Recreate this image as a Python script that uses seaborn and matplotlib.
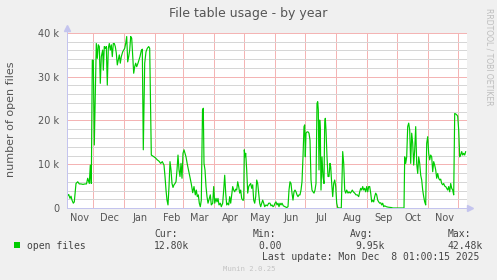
import pandas as pd
import matplotlib
matplotlib.use("Agg")
import matplotlib.pyplot as plt
import matplotlib.dates as mdates
from matplotlib.ticker import FixedLocator, FixedFormatter, MultipleLocator, NullFormatter
from matplotlib.patches import Rectangle
import seaborn as sns

# ---------------- data ----------------
start_time = "2024-11-04 17:00"   # left edge of the time axis
span_days = 400                   # munin "by year" window

# days since start_time
day_offsets = [
    0, 1.7, 3, 4, 5, 6.3, 7.3, 9, 10.7, 12.3, 14, 16, 18, 19.5, 20.7, 22.3, 23.3, 24.3,
    25.3, 26.3, 27.3, 28.3, 29.3, 30.3, 31.3, 32.3, 33.3, 34.3, 35.7, 36.3, 37.3, 38.3,
    39.3, 40.3, 41.3, 42.3, 43.3, 44.3, 45.3, 46.3, 47.3, 48.3, 49.3, 50.3, 51.3, 52.3,
    53.3, 54.3, 55.7, 56.7, 57.7, 58.7, 59.7, 60.7, 61.7, 62.7, 63.7, 64.7, 65.7, 66.7,
    67.7, 68.7,
    69.7, 71, 73, 74.3, 75.3, 76.3, 77.7, 79, 80.3, 81.7, 82.7, 84.3, 85.7, 87, 88.7,
    90.3, 92, 93.7, 95.3, 97, 98, 99, 100, 101, 102, 103, 104, 105, 106, 107, 108, 109,
    110, 111, 112, 113, 114, 115, 116, 117, 118, 119, 120.3, 121.7, 123, 124.3, 125.7,
    127, 128.3, 129.3, 130.3, 131.3, 132.3, 133.3, 134.3, 135.5, 136.3,
    137, 138, 139, 140, 141, 142.3, 143.3, 144.3, 145.7, 146.7, 147.7, 149, 150, 151,
    152, 153.3, 154.3, 155.7, 156.7, 157.7, 158.7, 159.7, 160.7, 161.7, 162.7, 163.7,
    164.7, 165.7, 166.7, 167.7, 168.7, 169.7, 170.7, 171.7, 172.7, 173.7, 174.7, 175.7,
    176.7, 177.3, 178, 178.7, 179.7, 180.7, 181.7, 182.7, 183.7, 184.7, 185.7, 186.7,
    187.7, 188.7, 189.7, 190.7, 191.7, 192.7, 193.7, 194.7, 195.7, 196.7, 197.7, 199,
    200.3, 201.7,
    203, 204, 205, 206, 207, 208, 209, 210, 211, 212, 213, 214, 215, 216.3, 218, 219.7,
    221, 222, 223, 224, 225, 226, 227, 228, 229, 230, 231, 232, 233, 234, 235, 236, 237,
    237.7, 238.3, 239, 240, 241, 242, 243, 244, 245, 246, 247, 248, 249, 250, 250.7,
    251.3, 252, 252.7, 253.3, 254, 255, 256, 257, 257.7, 258.3, 259, 260, 261, 262, 263,
    263.7, 264.7, 265.7, 266.7, 267.7, 268.7, 269.7, 270.7,
    271.7, 274.3, 275.7, 276.7, 277.7, 278.7, 279.7, 281, 282, 283.3, 284.3, 285.3,
    286.3, 287.7, 289, 290.3, 291.7, 292.7, 293.7, 294.7, 295.7, 296.7, 297.7, 298.7,
    299.7, 300.7, 301.7, 302.7, 303.7, 304.7, 305.7, 306.7, 307.7, 308.7, 309.7, 310.7,
    311.7, 312.7, 313.7, 314.7, 315.7, 316.7, 317.7, 319.3, 321, 322.7, 324.3, 326, 331,
    337,
    337.7, 338.7, 339.7, 340.7, 341.7, 342.7, 343.7, 344.7, 345.7, 346.7, 347.7, 348.7,
    349.7, 350.7, 351.7, 352.7, 353.7, 354.7, 355.7, 356.7, 357.7, 358.7, 359.7, 360.7,
    361.7, 362.7, 363.7, 364.7, 365.7, 366.7, 367.7, 368.7, 369.7, 370.7, 371.7, 372.7,
    373.7, 374.7, 375.7, 376.7, 377.7, 378.7, 379.7, 380.7, 381.7, 382.7, 383.7, 384.7,
    385.7, 386.7, 387.7, 388.7, 389.7, 390.7, 391.7, 392.7, 393.7, 394.7, 395.7, 396.7,
    397.7, 398.7,
]

# open files, thousands
open_files_k = [
    2.6, 3.1, 2.2, 2.7, 1.8, 1.1, 1.4, 5.6, 6.0, 5.5, 5.5, 5.4, 5.5, 5.5, 6.8, 5.6, 9.8, 5.6,
    33.8, 33.8, 14.4, 25.4, 37.6, 34.2, 37.3, 36.9, 28.5, 34.6, 36.1, 31.5, 36.9, 36.5,
    36.9, 28.1, 36.5, 37.6, 36.1, 37.3, 34.6, 37.6, 37.6, 36.9, 35.4, 32.7, 33.8, 35.0,
    33.1, 34.6, 35.7, 36.1, 36.5, 37.6, 39.2, 33.4, 34.6, 36.1, 39.2, 38.8, 34.6, 30.8,
    32.3, 33.1,
    32.3, 33.1, 34.6, 36.0, 36.3, 13.3, 33.1, 35.7, 36.5, 36.9, 36.5, 12.1, 11.9, 11.7, 11.4,
    11.0, 10.7, 10.2, 10.6, 9.8, 7.2, 4.1, 1.8, 0.7, 4.9, 10.6, 8.7, 5.6, 4.7, 5.3, 5.6, 6.0,
    8.7, 12.1, 8.7, 7.2, 10.2, 6.8, 12.5, 13.3, 12.5, 11.7, 10.0, 8.5, 7.0, 5.5, 3.5,
    4.9, 3.0, 4.1, 2.6, 3.0, 1.1, 0.3, 1.8, 22.4, 22.8,
    10.2, 8.7, 4.9, 2.6, 1.1, 2.2, 3.0, 0.7, 1.1, 4.9, 1.1, 2.2, 1.4, 2.2,
    0.7, 1.1, 0.3, 1.1, 4.1, 7.5, 3.4, 0.7, 1.1, 0.7, 2.6, 1.1,
    3.0, 4.9, 4.1, 3.7, 4.3, 4.1, 6.0, 4.9, 3.4, 4.1, 2.2, 1.8,
    1.8, 13.3, 11.7, 12.5, 8.7, 3.4, 4.9, 5.3, 5.6, 4.5, 5.3, 1.8,
    1.1, 2.6, 6.4, 5.6, 3.4, 1.1, 0.3, 1.1, 1.8, 1.1, 0.3, 0.7,
    0.5, 1.1,
    1.1, 0.5, 0.7, 0.3, 0.5, 1.1, 1.4, 0.7, 1.1, 0.3, 1.1, 0.7, 1.1, 0.5, 0.3, 0.1,
    0.3, 4.1, 6.0, 5.6, 3.4, 1.8, 3.7, 4.1, 3.7, 3.0, 2.6, 3.0, 3.0, 4.1, 6.0, 11.7, 18.6,
    19.0, 11.7, 17.1, 17.4, 17.4, 17.1, 15.5, 6.4, 4.1, 3.7, 3.4, 4.1, 5.6, 23.9, 24.3,
    22.4, 8.7, 20.1, 17.8, 4.1, 11.7, 7.2, 5.6, 19.4, 20.5, 17.8, 11.7, 7.2, 7.2, 10.2,
    9.4, 5.6, 2.6, 5.6, 6.4, 4.9, 1.1, 0.1,
    0.0, 0.0, 12.9, 10.2, 4.1, 3.4, 4.1, 3.4, 3.7, 3.4, 3.7, 4.1,
    3.7, 3.4, 3.0, 3.0, 2.6, 3.7, 4.5, 4.1, 4.9, 4.1, 4.5, 3.7,
    4.9, 3.7, 4.9, 4.9, 3.4, 1.4, 1.8, 1.4, 2.6, 3.4, 3.0, 1.8,
    1.4, 1.1, 1.2, 0.7, 1.1, 0.3, 0.5, 0.3, 0.2, 0.15, 0.1, 0.0, 0.0,
    0.0,
    11.7, 10.2, 11.7, 18.6, 19.4, 17.8, 10.2, 17.1, 14.8, 9.8, 13.3, 18.6,
    10.2, 7.9, 11.7, 10.2, 7.5, 6.4, 4.1, 2.6, 1.4, 0.7, 14.8, 16.3,
    12.5, 11.0, 12.1, 11.7, 8.3, 10.6, 9.8, 8.7, 6.8, 7.9, 6.8, 6.4,
    6.6, 5.6, 5.3, 5.6, 5.0, 4.9, 4.5, 4.1, 4.9, 3.7, 5.6, 4.5,
    4.1, 3.0, 21.6, 21.5, 21.3, 21.0, 17.8, 11.7, 12.1, 12.9, 12.1, 12.5,
    12.1, 12.9,
]

month_labels = ["Nov", "Dec", "Jan", "Feb", "Mar", "Apr", "May", "Jun",
                "Jul", "Aug", "Sep", "Oct", "Nov"]
first_label_month = "2024-11-01"
first_grid_month = "2024-12-01"
last_grid_month = "2025-12-01"

y_tick_values = [0, 10000, 20000, 30000, 40000]
y_tick_labels = ["0", "10 k", "20 k", "30 k", "40 k"]
y_minor_step = 2000

title_text = "File table usage - by year"
y_label_text = "number of open files"
side_text = "RRDTOOL / TOBI OETIKER"
series_name = "open files"
stat_names = ["Cur:", "Min:", "Avg:", "Max:"]
stat_values = ["12.80k", "0.00", "9.95k", "42.48k"]
last_update_text = "Last update: Mon Dec  8 01:00:15 2025"
footer_text = "Munin 2.0.25"

# ---------------- styling ----------------
W, H = 497, 280
BG = "#f0f0f0"
LINE = "#00cc00"
MAJOR = "#f4b4b4"
MINOR = "#d6d6d6"
AXIS = "#c4c4ee"
TXT = "#555555"
PX = 72 / 100  # one pixel in points

sns.set_style("white")
plt.rcParams["font.family"] = ["DejaVu Sans"]

fig = plt.figure(figsize=(W / 100, H / 100), dpi=100, facecolor=BG)
ax = fig.add_axes([67 / W, (H - 208) / H, 400 / W, 175 / H])
ax.set_facecolor("white")

t0 = pd.Timestamp(start_time)
df = pd.DataFrame({
    "time": t0 + pd.to_timedelta(day_offsets, unit="D"),
    "open_files": [v * 1000 for v in open_files_k],
})
sns.lineplot(data=df, x="time", y="open_files", color=LINE, linewidth=0.85,
             estimator=None, ax=ax, legend=False, zorder=3)

ax.set_xlim(t0, t0 + pd.Timedelta(days=span_days))
ax.set_ylim(y_tick_values[0], y_tick_values[-1])
ax.set_xlabel("")
ax.set_ylabel("")

# x: month-start grid (major) and mid-month labels (minor)
grid_months = pd.date_range(first_grid_month, last_grid_month, freq="MS")
label_pos = pd.date_range(first_label_month, periods=len(month_labels), freq="MS") + pd.Timedelta(days=16)
ax.xaxis.set_major_locator(FixedLocator(mdates.date2num(grid_months)))
ax.xaxis.set_major_formatter(NullFormatter())
ax.xaxis.set_minor_locator(FixedLocator(mdates.date2num(label_pos)))
ax.xaxis.set_minor_formatter(FixedFormatter(month_labels))

ax.yaxis.set_major_locator(FixedLocator(y_tick_values))
ax.yaxis.set_major_formatter(FixedFormatter(y_tick_labels))
ax.yaxis.set_minor_locator(MultipleLocator(y_minor_step))

dot = (0, (1, 1))
ax.grid(which="major", axis="both", color=MAJOR, linestyle=dot, linewidth=PX,
        antialiased=False, snap=True, zorder=1)
ax.grid(which="minor", axis="y", color=MINOR, linestyle=dot, linewidth=PX,
        antialiased=False, snap=True, zorder=0)
ax.set_axisbelow(True)

ax.tick_params(axis="x", which="major", length=3, width=PX, color=MAJOR, direction="out")
ax.tick_params(axis="x", which="minor", length=0, labelsize=7, labelcolor=TXT, pad=3.5)
ax.tick_params(axis="y", which="major", length=3, width=PX, color=MAJOR, direction="out",
               labelsize=7, labelcolor=TXT, pad=2.5)
ax.tick_params(axis="y", which="minor", length=2, width=PX, color=MINOR, direction="out")

for s in ["top", "right"]:
    ax.spines[s].set_visible(False)
for s in ["left", "bottom"]:
    ax.spines[s].set_color(AXIS)
    ax.spines[s].set_linewidth(PX)
    ax.spines[s].set_zorder(4)

# axis arrows
ax.plot([0, 0], [1, 1.025], transform=ax.transAxes, color=AXIS, lw=PX, clip_on=False)
ax.plot([0], [1.03], transform=ax.transAxes, marker="^", ms=4.5, color=AXIS,
        mec=AXIS, clip_on=False)
ax.plot([1, 1.006], [0, 0], transform=ax.transAxes, color=AXIS, lw=PX, clip_on=False)
ax.plot([1.0085], [0], transform=ax.transAxes, marker=">", ms=4.5, color=AXIS,
        mec=AXIS, clip_on=False)

# ---------------- texts ----------------
def fx(px):
    return px / W

def fy(py):
    return 1 - py / H

fig.text(fx(248.5), fy(13), title_text, ha="center", va="center", fontsize=9, color=TXT)
fig.text(fx(11), fy(119), y_label_text, ha="center", va="center", rotation=90,
         fontsize=8, color=TXT)
fig.text(fx(488.5), fy(57), side_text, ha="center", va="center", rotation=270,
         fontsize=5.5, color="#bdbdbd")

mono = "DejaVu Sans Mono"
fig.patches.append(Rectangle((fx(14), fy(248)), 6 / W, 6 / H, transform=fig.transFigure,
                             facecolor=LINE, edgecolor="none"))
fig.text(fx(26.7), fy(246), series_name, ha="left", va="center", fontsize=7,
         family=mono, color="#444444")
name_x = [154.3, 252.7, 350.0, 447.3]
value_x = [154.3, 258.7, 355.7, 447.3]
for nm, vx, nmx, vvx in zip(stat_names, stat_values, name_x, value_x):
    fig.text(fx(nmx), fy(234), nm, ha="left", va="center", fontsize=7, family=mono, color="#444444")
    fig.text(fx(vvx), fy(246), vx, ha="left", va="center", fontsize=7, family=mono, color="#444444")
fig.text(fx(261.7), fy(257.5), last_update_text, ha="left", va="center", fontsize=7,
         family=mono, color="#444444")
fig.text(fx(222.7), fy(269), footer_text, ha="left", va="center", fontsize=5.2,
         family=mono, color="#c4c4c4")

fig.savefig("out.png", dpi=100, facecolor=BG)
